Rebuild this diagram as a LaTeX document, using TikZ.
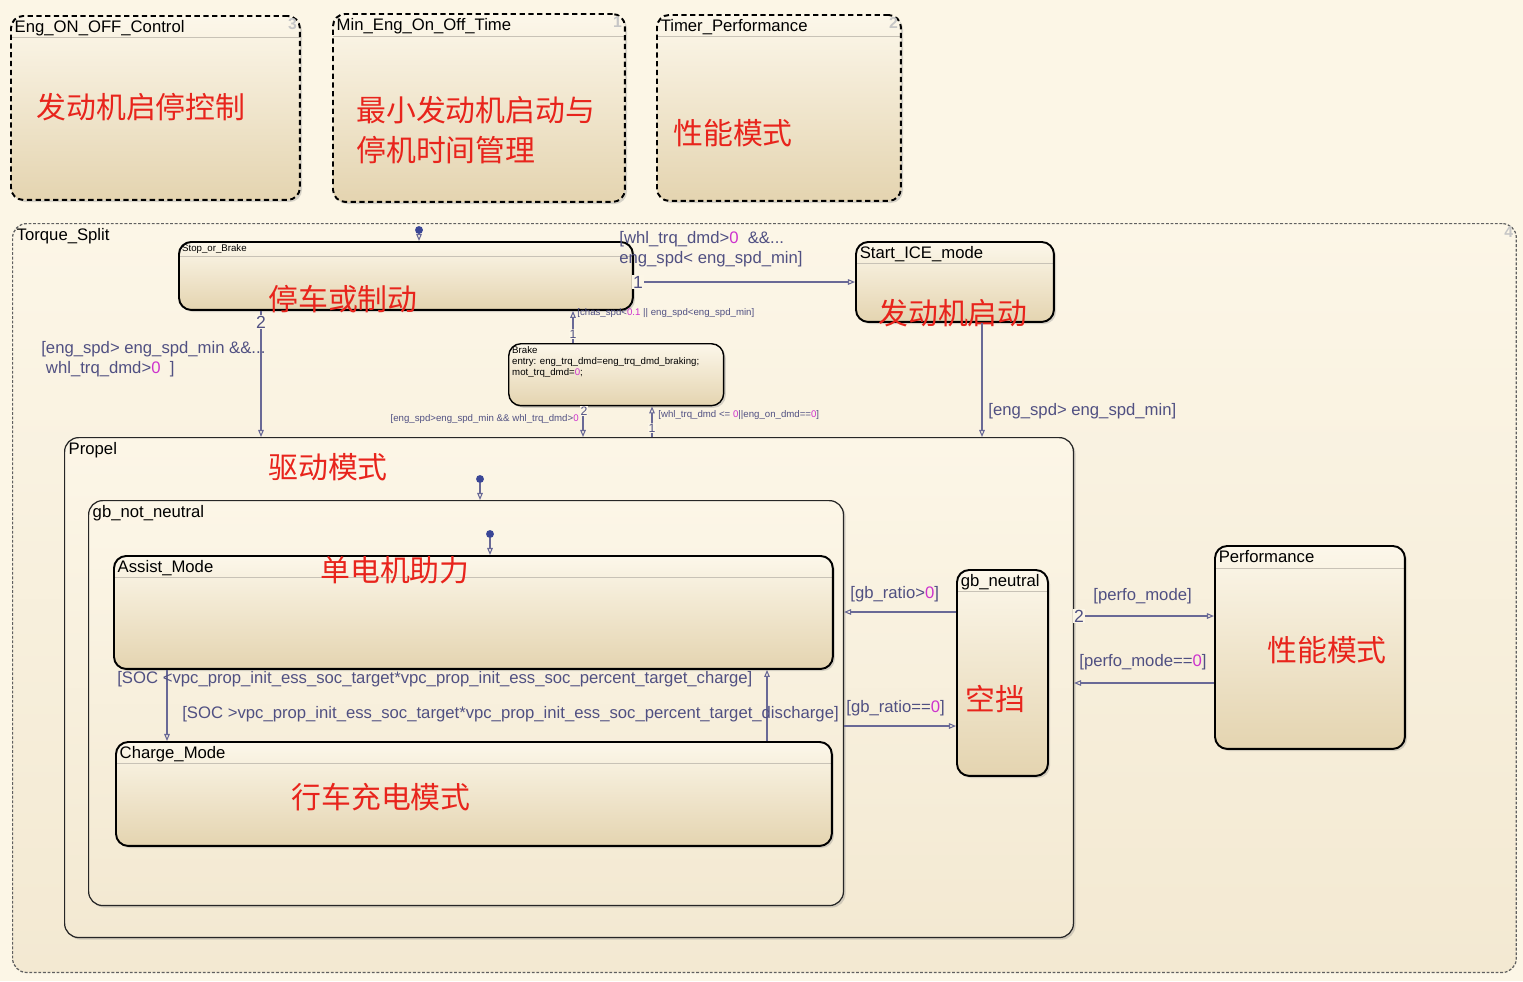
\documentclass[tikz,border=0pt]{standalone}
\usepackage{fontspec}
\setmainfont{Liberation Sans}
\newfontfamily\cjk{Noto Sans CJK SC}
\usetikzlibrary{arrows.meta, shadows, calc, positioning}

\definecolor{bgcol}{RGB}{252,246,230}
\definecolor{sttop}{RGB}{252,247,234}
\definecolor{stbot}{RGB}{228,212,176}
\definecolor{paltop}{RGB}{252,246,231}
\definecolor{palbot}{RGB}{243,233,210}
\definecolor{sepcol}{RGB}{200,194,182}
\definecolor{trcol}{RGB}{105,105,150}
\definecolor{lblcol}{RGB}{80,80,130}
\definecolor{numcol}{RGB}{205,50,205}
\definecolor{redtxt}{RGB}{232,36,28}
\definecolor{dotcol}{RGB}{58,70,150}

\tikzset{
  shd/.style={drop shadow={shadow xshift=1.2pt, shadow yshift=-1.2pt, opacity=0.3}},
  pbox/.style={draw=black, dash pattern=on 3pt off 2pt, line width=1.1pt, rounded corners=7pt,
    top color=sttop, bottom color=stbot, anchor=north west, inner sep=0pt, shd},
  tsbox/.style={draw=gray!75!black, dash pattern=on 1.6pt off 1pt, line width=0.7pt, rounded corners=8pt,
    top color=paltop, bottom color=palbot, anchor=north west, inner sep=0pt},
  stbox/.style={draw=black, line width=1.1pt, rounded corners=7pt,
    top color=sttop, bottom color=stbot, anchor=north west, inner sep=0pt, shd},
  cbox/.style={draw=black!85, line width=0.7pt, rounded corners=8pt,
    top color=paltop, bottom color=palbot, anchor=north west, inner sep=0pt, shd},
  sep/.style={path picture={\draw[sepcol, solid, line width=0.6pt]
      ([yshift=-#1]path picture bounding box.north west) --
      ([yshift=-#1]path picture bounding box.north east);}},
  ttl/.style={anchor=north west, inner sep=1.5pt, xshift=1pt, yshift=-1.3pt, font=\fontsize{9.5}{10.5}\selectfont},
  sttl/.style={anchor=north west, inner sep=1.2pt, xshift=1pt, yshift=-0.5pt, font=\fontsize{5.5}{6.3}\selectfont, align=left},
  ord/.style={anchor=north east, inner sep=2pt, text=gray!45, font=\bfseries\fontsize{9}{10}\selectfont},
  cn/.style={text=redtxt, inner sep=0pt, font=\cjk\fontsize{17}{22.7}\selectfont},
  lbl/.style={text=lblcol, inner sep=0pt, anchor=west, align=left, font=\fontsize{9.5}{11.4}\selectfont},
  slbl/.style={text=lblcol, inner sep=0pt, anchor=west, font=\fontsize{5.5}{6.3}\selectfont},
  tnum/.style={text=lblcol, fill=bgcol, inner sep=0.6pt, font=\fontsize{10}{11}\selectfont},
  stnum/.style={text=lblcol, fill=bgcol, inner sep=0.3pt, font=\fontsize{7}{8}\selectfont},
  dflt/.style={circle, fill=dotcol, inner sep=0pt, minimum size=4.5pt},
  tr/.style={draw=trcol, line width=0.6pt, -{Triangle[open, length=4pt, width=3.2pt]}}
}
\newcommand{\mg}[1]{\textcolor{numcol}{#1}}

\begin{document}
\begin{tikzpicture}[x=0.02cm, y=-0.02cm]
  \fill[bgcol] (0,0) rectangle (1523,981);
  \useasboundingbox (0,0) rectangle (1523,981);

  % parallel states
  \node[pbox, sep=12.5pt, minimum width=5.78cm, minimum height=3.68cm,
        label={[ttl]north west:Eng\_ON\_OFF\_Control}, label={[ord]north east:3}] (engctl) at (10,15) {};
  \node[pbox, sep=13pt, minimum width=5.84cm, minimum height=3.76cm,
        label={[ttl]north west:Min\_Eng\_On\_Off\_Time}, label={[ord]north east:1}] (mintime) at (332,13) {};
  \node[pbox, sep=12pt, minimum width=4.88cm, minimum height=3.72cm,
        label={[ttl]north west:Timer\_Performance}, label={[ord]north east:2}] (tmrperf) at (656,14) {};
  \node[tsbox, minimum width=30.08cm, minimum height=14.98cm,
        label={[ttl]north west:Torque\_Split}, label={[ord]north east:4}] (tsplit) at (12,223) {};

  \node[cn] (engctlTxt) at (141,107) {发动机启停控制};
  \node[cn, anchor=west, align=left] (mintimeTxt) at (356,130) {最小发动机启动与\\停机时间管理};
  \node[cn] (tmrperfTxt) at (733,133) {性能模式};

  % Torque_Split substates
  \node[stbox, sep=8pt, minimum width=9.08cm, minimum height=1.36cm,
        label={[sttl]north west:Stop\_or\_Brake}] (sob) at (178,241) {};
  \node[stbox, sep=12pt, minimum width=3.96cm, minimum height=1.60cm,
        label={[ttl]north west:Start\_ICE\_mode}] (sice) at (855,241) {};
  \node[stbox, line width=0.8pt, minimum width=4.30cm, minimum height=1.24cm,
        label={[sttl]north west:Brake\\entry: eng\_trq\_dmd=eng\_trq\_dmd\_braking;\\mot\_trq\_dmd=\mg{0};}] (brk) at (508,343) {};
  \node[cbox, minimum width=20.18cm, minimum height=10.0cm,
        label={[ttl]north west:Propel}] (prop) at (64,437) {};
  \node[cbox, minimum width=15.10cm, minimum height=8.10cm,
        label={[ttl]north west:gb\_not\_neutral}] (gbnn) at (88,500) {};
  \node[stbox, sep=12.5pt, minimum width=14.38cm, minimum height=2.26cm,
        label={[ttl]north west:Assist\_Mode}] (assist) at (113,555) {};
  \node[stbox, sep=12.5pt, minimum width=14.32cm, minimum height=2.08cm,
        label={[ttl]north west:Charge\_Mode}] (charge) at (115,741) {};
  \node[stbox, sep=12.5pt, minimum width=1.82cm, minimum height=4.12cm,
        label={[ttl]north west:gb\_neutral}] (gbn) at (956,569) {};
  \node[stbox, sep=13pt, minimum width=3.80cm, minimum height=4.06cm,
        label={[ttl]north west:Performance}] (perf) at (1214,545) {};

  \node[cn] (sobTxt) at (343,299) {停车或制动};
  \node[cn] (siceTxt) at (953,313) {发动机启动};
  \node[cn] (propTxt) at (328,467) {驱动模式};
  \node[cn] (assistTxt) at (395,570) {单电机助力};
  \node[cn] (chargeTxt) at (381,797) {行车充电模式};
  \node[cn] (gbnTxt) at (995,699) {空挡};
  \node[cn] (perfTxt) at (1327,650) {性能模式};

  % default transitions
  \node[dflt] (d1) at (419,230) {};
  \node[dflt] (d2) at (480,479) {};
  \node[dflt] (d3) at (490,534) {};
  \draw[tr] (d1) -- ($(sob.north west)+(241,0)$);
  \draw[tr] (d2) -- ($(gbnn.north west)+(392,0)$);
  \draw[tr] (d3) -- ($(assist.north west)+(377,0)$);

  % transitions
  \draw[tr] ($(sob.north east)+(0,41)$) -- ($(sice.north west)+(0,41)$);
  \draw[tr] ($(brk.north west)+(65,0)$) -- ($(sob.south west)+(395,0)$);
  \draw[tr] ($(brk.south west)+(75,0)$) -- ($(prop.north west)+(519,0)$);
  \draw[tr] ($(prop.north west)+(588,0)$) -- ($(brk.south west)+(144,0)$);
  \draw[tr] ($(sob.south west)+(83,0)$) -- ($(prop.north west)+(197,0)$);
  \draw[tr] ($(sice.south west)+(127,0)$) -- ($(prop.north west)+(918,0)$);
  \draw[tr] ($(assist.south west)+(54,0)$) -- ($(charge.north west)+(52,0)$);
  \draw[tr] ($(charge.north west)+(652,0)$) -- ($(assist.south west)+(654,0)$);
  \draw[tr] ($(gbn.north west)+(0,43)$) -- ($(gbnn.north east)+(0,112)$);
  \draw[tr] ($(gbnn.north east)+(0,226)$) -- ($(gbn.north west)+(0,157)$);
  \draw[tr] ($(prop.north east)+(0,179)$) -- ($(perf.north west)+(0,71)$);
  \draw[tr] ($(perf.north west)+(0,138)$) -- ($(prop.north east)+(0,246)$);

  \node[tnum] (n1) at (638,282) {1};
  \node[stnum] (n2) at (573,334) {1};
  \node[stnum] (n3) at (584,411) {2};
  \node[stnum] (n4) at (652,428) {1};
  \node[tnum] (n5) at (261,322) {2};
  \node[tnum] (n6) at (1079,616) {2};

  \node[lbl, anchor=north west] (l1) at (619,231) {[whl\_trq\_dmd>\mg{0}~~\&\&...\\eng\_spd< eng\_spd\_min]};
  \node[slbl] (l2) at (577,313) {[chas\_spd<\mg{0.1} || eng\_spd<eng\_spd\_min]};
  \node[slbl, anchor=east] (l3) at (579,419) {[eng\_spd>eng\_spd\_min \&\& whl\_trq\_dmd>\mg{0}};
  \node[slbl] (l4) at (658,415) {[whl\_trq\_dmd <= \mg{0}||eng\_on\_dmd==\mg{0}]};
  \node[lbl, anchor=north west] (l5) at (41,341) {[eng\_spd> eng\_spd\_min \&\&...\\\ whl\_trq\_dmd>\mg{0}~~]};
  \node[lbl] (l6) at (988,411) {[eng\_spd> eng\_spd\_min]};
  \node[lbl] (l7) at (117,679) {[SOC <vpc\_prop\_init\_ess\_soc\_target*vpc\_prop\_init\_ess\_soc\_percent\_target\_charge]};
  \node[lbl] (l8) at (182,714) {[SOC >vpc\_prop\_init\_ess\_soc\_target*vpc\_prop\_init\_ess\_soc\_percent\_target\_discharge]};
  \node[lbl] (l9) at (850,594) {[gb\_ratio>\mg{0}]};
  \node[lbl] (l10) at (846,708) {[gb\_ratio==\mg{0}]};
  \node[lbl] (l11) at (1093,596) {[perfo\_mode]};
  \node[lbl] (l12) at (1079,662) {[perfo\_mode==\mg{0}]};
\end{tikzpicture}
\end{document}
